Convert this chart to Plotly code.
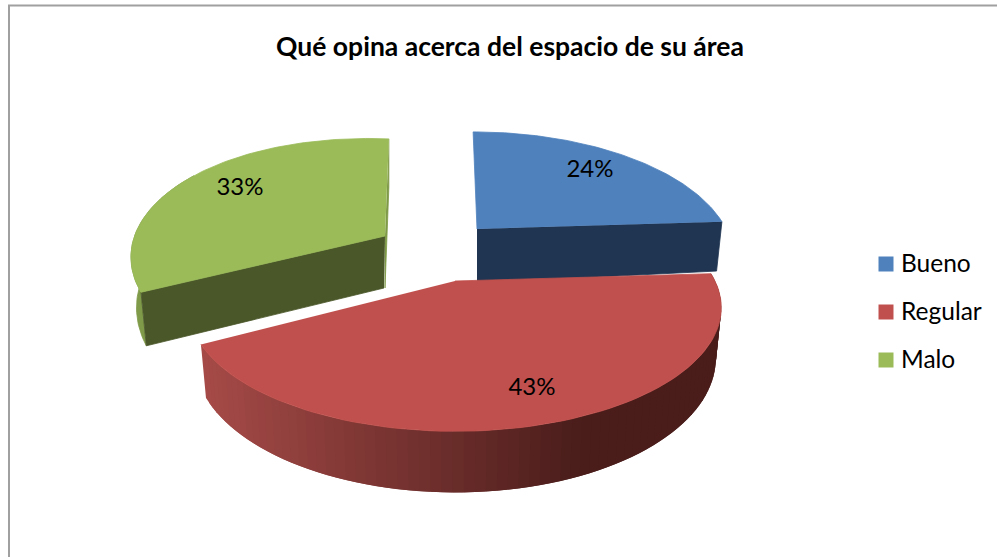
import math
import numpy as np
import plotly.graph_objects as go

categories = ["Bueno", "Regular", "Malo"]
values = [24, 43, 33]

# drawing style and geometry (pixel-like axes)
colors = ["#4f81bd", "#c0504d", "#9bbb59"]
face_colors = ["#1f3552", "#4a1d1b", "#4a5729"]
wall_colors = ["#3b6190", "#8c3a38", "#7f9a48"]
persp = 0.215
flat = 118
depth = 48
shrink = 0.98
geom = {
    "Bueno": dict(ax=477, ay=229, R=249, vx=455, shear=0.0),
    "Regular": dict(ax=455, ay=281, R=260, vx=454, shear=0.0),
    "Malo": dict(ax=385, ay=236, R=247, vx=407, shear=0.033),
}
label_pos = {"Bueno": (590, 171), "Regular": (532, 389), "Malo": (240, 189)}
legend_y = [264, 312, 360]
FONT = "Lato, Carlito, Calibri, sans-serif"


def project(theta, r, g):
    c, s0 = math.cos(theta), math.sin(theta)
    s = 1 / (1 + persp * r * c)
    x = g["vx"] + (g["ax"] - g["vx"] + g["R"] * r * s0) * s
    y = g["ay"] - flat * r * c * s + g["shear"] * (g["R"] * r * s0)
    return x, y, s


def arc(t0, t1, g, n=90):
    return [project(t, 1, g) for t in np.linspace(t0, t1, n)]


def lower(p, g):
    x, y, s = p
    return g["vx"] + (x - g["vx"]) * shrink, y + depth * s


def mix(a, b, f):
    ca = [int(a[i:i + 2], 16) for i in (1, 3, 5)]
    cb = [int(b[i:i + 2], 16) for i in (1, 3, 5)]
    return "rgb(%d,%d,%d)" % tuple(round(u + (v - u) * f) for u, v in zip(ca, cb))


def poly(fig, xs, ys, color, width=0.8):
    fig.add_trace(go.Scatter(
        x=xs, y=ys, mode="lines", fill="toself", fillcolor=color,
        line=dict(color=color, width=width),
        hoverinfo="skip", showlegend=False))


total = sum(values)
bounds = [0]
for v in values:
    bounds.append(bounds[-1] + v / total * 2 * math.pi)
span = {c: (bounds[i], bounds[i + 1]) for i, c in enumerate(categories)}

fig = go.Figure()

# Malo: outer wall, rear sliver, radial face, top
g = geom["Malo"]
t0, t1 = span["Malo"]
pts = arc(t0, t1, g)
low = [lower(p, g) for p in pts]
poly(fig, [p[0] for p in pts[:45]] + [p[0] for p in low[:45]][::-1],
     [p[1] for p in pts[:45]] + [p[1] for p in low[:45]][::-1], wall_colors[2])
end = pts[-1]
poly(fig, [end[0], end[0], g["ax"], g["ax"]],
     [end[1], end[1] + depth, g["ay"] + 52, g["ay"]], wall_colors[2])
st = pts[0]
stl = lower(st, g)
poly(fig, [g["ax"], st[0], stl[0], g["ax"] - 1],
     [g["ay"], st[1], stl[1], g["ay"] + 52], face_colors[2])
poly(fig, [g["ax"]] + [p[0] for p in pts], [g["ay"]] + [p[1] for p in pts], colors[2])

# Bueno: radial face, top
g = geom["Bueno"]
t0, t1 = span["Bueno"]
pts = arc(t0, t1, g)
e = pts[-1]
el = lower(e, g)
poly(fig, [g["ax"], e[0], el[0], g["ax"]],
     [g["ay"], e[1], el[1] + 2, g["ay"] + depth + 6], face_colors[0])
poly(fig, [g["ax"]] + [p[0] for p in pts], [g["ay"]] + [p[1] for p in pts], colors[0])

# Regular: shaded outer wall in overlapping strips, top
g = geom["Regular"]
t0, t1 = span["Regular"]
pts = arc(t0, t1, g, n=80)
low = [lower(p, g) for p in pts]
for i in range(len(pts) - 1, 0, -1):
    j = max(i - 2, 0)
    xm = (pts[i][0] + pts[i - 1][0]) / 2
    f = min(max((xm - 205) / 375, 0), 1)
    col = mix("#a54a47", "#4a1d1b", f)
    poly(fig, [pts[i][0], pts[j][0], low[j][0], low[i][0]],
         [pts[i][1], pts[j][1], low[j][1], low[i][1]], col, width=0)
poly(fig, [g["ax"]] + [p[0] for p in pts], [g["ay"]] + [p[1] for p in pts], colors[1])

# percentage labels
fig.add_trace(go.Scatter(
    x=[label_pos[c][0] for c in categories],
    y=[label_pos[c][1] for c in categories],
    text=[f"{v}%" for v in values],
    mode="text", textposition="middle center",
    textfont=dict(family=FONT, size=24, color="#000000"),
    hoverinfo="skip", showlegend=False))

# legend
fig.add_trace(go.Scatter(
    x=[886] * 3, y=legend_y,
    mode="markers",
    marker=dict(symbol="square", size=15, color=colors, line=dict(width=0)),
    hoverinfo="skip", showlegend=False))
fig.add_trace(go.Scatter(
    x=[901] * 3, y=[v + 2 for v in legend_y], text=categories,
    mode="text", textposition="middle right",
    textfont=dict(family=FONT, size=24.5, color="#000000"),
    hoverinfo="skip", showlegend=False))

fig.update_layout(
    width=997, height=557,
    margin=dict(l=0, r=0, t=0, b=0),
    paper_bgcolor="white", plot_bgcolor="white",
    showlegend=False,
    title=dict(text="<b>Qué opina acerca del espacio de su área</b>",
               x=510 / 997, xanchor="center", y=1 - 47 / 557, yanchor="middle",
               font=dict(family=FONT, size=26.5, color="#000000")),
    xaxis=dict(range=[0, 997], visible=False, fixedrange=True),
    yaxis=dict(range=[557, 0], visible=False, fixedrange=True),
    shapes=[
        dict(type="line", xref="x", yref="y", x0=9, x1=9, y0=5, y1=557,
             line=dict(color="#a0a0a0", width=2)),
        dict(type="line", xref="x", yref="y", x0=8, x1=997, y0=5.5, y1=5.5,
             line=dict(color="#a0a0a0", width=2)),
    ],
)
fig.write_html("out.html", config={"displayModeBar": False},
               post_script="document.body.style.margin='0';document.documentElement.style.overflow='hidden';")
